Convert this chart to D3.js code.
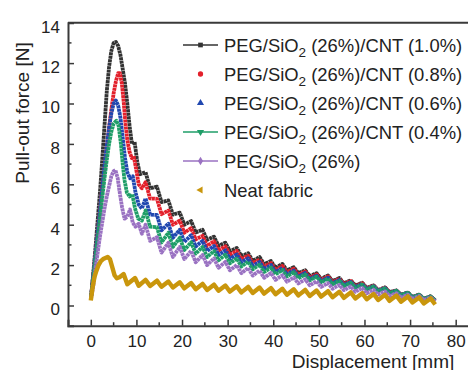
<!DOCTYPE html>
<html>
<head>
<meta charset="utf-8">
<script src="https://cdn.jsdelivr.net/npm/d3@7"></script>
<style>
  body { margin: 0; background: #fff; }
  svg { display: block; font-family: "Liberation Sans", Arial, sans-serif; }
</style>
</head>
<body>
<div class="graphics"></div>
<script>
// legend text, colours and symbols
var labels = ["PEG/SiO₂ (26%)/CNT (1.0%)", "PEG/SiO₂ (26%)/CNT (0.8%)", "PEG/SiO₂ (26%)/CNT (0.6%)",
              "PEG/SiO₂ (26%)/CNT (0.4%)", "PEG/SiO₂ (26%)", "Neat fabric"]
var colors = ["#333333", "#e3202b", "#2148b0", "#1f9e68", "#9a72c2", "#c9960c"]
var symbols = [d3.symbolSquare, d3.symbolCircle, d3.symbolTriangle, "down", d3.symbolDiamond, "left"]
var legendLine = [true, false, false, true, true, false]

var xTicks = [0, 10, 20, 30, 40, 50, 60, 70, 80]
var yTicks = [0, 2, 4, 6, 8, 10, 12, 14]

// first part of each curve (rise + peak), [displacement, force]
var headBlack = [[0,0.3],[0.5,1.5],[1,2.8],[1.5,4.2],[2,5.6],[2.5,7.2],[3,8.9],[3.5,10.6],[4,11.8],[4.5,12.6],[5,13.0],[5.5,13.05],[6,12.85],[6.5,12.4],[7,11.7],[7.5,11.0],[8,10.0],[8.5,8.9],[9,8.0],[9.6,8.1],[10.2,7.1],[10.8,6.5]]
var headRed = [[0,0.3],[0.5,1.4],[1,2.5],[1.5,3.6],[2,4.7],[2.5,5.8],[3,6.7],[3.5,7.8],[4,8.8],[4.5,9.7],[5,10.5],[5.5,11.1],[6,11.5],[6.4,11.5],[6.8,11.0],[7.2,10.1],[7.6,9.0],[8,8.2],[8.5,7.6],[9,7.3],[9.4,7.4],[9.9,6.8],[10.5,6.0],[11.2,5.8]]
var headBlue = [[0,0.3],[0.5,1.4],[1,2.5],[1.5,3.6],[2,4.7],[2.5,5.8],[3,6.9],[3.5,7.9],[4,8.8],[4.5,9.5],[5,10.0],[5.5,10.15],[6,9.9],[6.5,9.3],[7,8.3],[7.5,7.3],[8,6.6],[8.6,6.3],[9.2,6.4],[9.8,5.6],[10.5,5.0],[11.2,4.8]]
var headGreen = [[0,0.3],[0.5,1.3],[1,2.3],[1.5,3.3],[2,4.3],[2.5,5.3],[3,6.3],[3.5,7.2],[4,8.0],[4.5,8.6],[5,9.0],[5.6,9.15],[6.1,8.9],[6.6,8.0],[7,7.0],[7.4,6.2],[7.9,5.6],[8.5,5.4],[9.1,5.5],[9.7,4.8],[10.4,4.3],[11.2,4.2]]
var headPurple = [[0,0.3],[0.5,0.9],[1,1.8],[1.5,2.6],[2,3.4],[2.5,4.1],[3,4.8],[3.5,5.4],[4,5.9],[4.5,6.4],[5,6.65],[5.4,6.7],[5.9,6.3],[6.4,5.5],[6.9,4.8],[7.4,4.3],[8,4.4],[8.6,4.75],[9.2,4.1],[9.8,3.9],[10.5,4.05],[11.2,3.55]]
var headGold = [[0,0.25],[0.4,0.9],[0.8,1.4],[1.2,1.7],[1.7,2.0],[2.2,2.2],[2.7,2.3],[3.2,2.35],[3.7,2.4],[4.2,2.3],[4.7,1.9],[5.2,1.5],[5.7,1.35],[6.3,1.4],[7.2,1.56],[8,1.05],[9.7,1.36],[10.5,0.98]]

// saw-tooth tail: displacement of each peak / trough
var tailX = [12,13,14.5,15.5,17,18,19.5,20.5,22,23,24.5,25.5,27,28,29.5,30.5,32,33,34.5,35.5,37,38,39.5,40.5,42,43,
             44.5,45.5,47,48,49.5,50.5,52,53,54.5,55.5,57,58,59.5,60.5,62,63,64.5,65.5,67,68,69.5,70.5,72,73,74.5,75.5]
var tailBlack = [6.6,5.8,5.88,5.12,5.2,4.5,4.6,4.0,4.18,3.62,3.75,3.25,3.41,2.95,3.11,2.69,2.85,2.45,2.59,2.21,2.4,2.04,2.2,1.86,2.06,1.74,
                 1.9,1.6,1.75,1.45,1.6,1.32,1.49,1.21,1.36,1.1,1.25,0.99,1.13,0.87,1.0,0.76,0.9,0.66,0.75,0.53,0.64,0.42,0.54,0.34,0.45,0.25]
var tailRed = [6.1,5.3,5.28,4.52,4.7,4.0,4.2,3.6,3.83,3.27,3.45,2.95,3.18,2.72,2.93,2.51,2.7,2.3,2.47,2.09,2.28,1.92,2.1,1.76,1.96,1.64,
               1.82,1.52,1.68,1.38,1.54,1.26,1.44,1.16,1.32,1.06,1.21,0.95,1.1,0.84,0.98,0.74,0.88,0.64,0.74,0.52,0.63,0.41,0.53,0.33,0.45,0.25]
var tailBlue = [5.3,4.5,4.48,3.72,4.05,3.35,3.75,3.15,3.48,2.92,3.2,2.7,2.95,2.49,2.73,2.31,2.53,2.13,2.34,1.96,2.16,1.8,2.0,1.66,1.86,1.54,
                1.73,1.43,1.61,1.31,1.48,1.2,1.38,1.1,1.27,1.01,1.17,0.91,1.07,0.81,0.96,0.72,0.86,0.62,0.73,0.51,0.63,0.41,0.52,0.32,0.44,0.24]
var tailGreen = [4.7,3.9,3.88,3.12,3.6,2.9,3.35,2.75,3.13,2.57,2.9,2.4,2.7,2.24,2.51,2.09,2.33,1.93,2.17,1.79,2.02,1.66,1.88,1.54,1.76,1.44,
                 1.65,1.35,1.54,1.24,1.43,1.15,1.33,1.05,1.22,0.96,1.13,0.87,1.04,0.78,0.94,0.7,0.85,0.61,0.73,0.51,0.63,0.41,0.53,0.33,0.45,0.25]
var tailPurple = [4.0,3.2,3.38,2.62,3.1,2.4,2.9,2.3,2.7,2.14,2.5,2.0,2.33,1.87,2.16,1.74,2.0,1.6,1.86,1.48,1.73,1.37,1.61,1.27,1.5,1.18,
                  1.39,1.09,1.3,1.0,1.2,0.92,1.11,0.83,1.02,0.76,0.94,0.68,0.87,0.61,0.78,0.54,0.7,0.46,0.61,0.39,0.54,0.32,0.47,0.27,0.4,0.2]
var tailGold = [1.27,0.97,1.23,0.93,1.19,0.89,1.15,0.85,1.11,0.81,1.07,0.77,1.03,0.73,0.99,0.69,0.95,0.65,0.92,0.62,0.89,0.59,0.86,0.56,0.83,0.53,
                0.8,0.5,0.77,0.47,0.74,0.44,0.71,0.41,0.68,0.38,0.65,0.35,0.61,0.31,0.57,0.27,0.53,0.23,0.49,0.19,0.45,0.15,0.4,0.1,0.35,0.05]

function build(head, tail){
    return head.concat(tail.map(function(y,i){ return [tailX[i], y]; }));
}

var series = [build(headBlack, tailBlack), build(headRed, tailRed), build(headBlue, tailBlue),
              build(headGreen, tailGreen), build(headPurple, tailPurple), build(headGold, tailGold)]

var W = 468, H = 370
var svg = d3.select('.graphics').append('svg')
    .attr('width', W).attr('height', H)

var x = d3.scaleLinear().domain([-5, 85]).range([68, 478.5])
var y = d3.scaleLinear().domain([-1, 14]).range([325.7, 22.7])

var axisColor = "#3a3a3a"

// curves
var line = d3.line().x(function(d){ return x(d[0]); }).y(function(d){ return y(d[1]); })
series.forEach(function(s, i){
    svg.append('path')
        .datum(s)
        .attr('d', line)
        .attr('fill', 'none')
        .attr('stroke', colors[i])
        .attr('stroke-width', i == 5 ? 4.4 : 3.8)
        .attr('stroke-linejoin', 'round')
        .attr('stroke-dasharray', i == 5 ? null : '3,0.5')
})

// axes (ticks inward)
var xAxis = d3.axisBottom(x).tickValues(xTicks).tickSize(-6).tickPadding(9)
var gx = svg.append('g').attr('transform', 'translate(0,' + y(-1) + ')').call(xAxis)
var yAxis = d3.axisLeft(y).tickValues(yTicks).tickSize(-6).tickPadding(8)
var gy = svg.append('g').attr('transform', 'translate(' + x(-5) + ',0)').call(yAxis)

;[gx, gy].forEach(function(g){
    g.select('.domain').attr('stroke', axisColor).attr('stroke-width', 2)
    g.selectAll('.tick line').attr('stroke', axisColor).attr('stroke-width', 1.5)
    g.selectAll('.tick text').attr('fill', '#222').attr('font-size', 17)
})
gy.selectAll('.tick text').attr('dy', '0.55em')

// minor ticks
var xMinor = [5, 15, 25, 35, 45, 55, 65, 75]
var yMinor = [1, 3, 5, 7, 9, 11, 13]
svg.selectAll('.xminor').data(xMinor).enter().append('line')
    .attr('x1', function(d){ return x(d); }).attr('x2', function(d){ return x(d); })
    .attr('y1', y(-1)).attr('y2', y(-1) - 3.5)
    .attr('stroke', axisColor).attr('stroke-width', 1.5)
svg.selectAll('.yminor').data(yMinor).enter().append('line')
    .attr('x1', x(-5)).attr('x2', x(-5) + 3.5)
    .attr('y1', function(d){ return y(d); }).attr('y2', function(d){ return y(d); })
    .attr('stroke', axisColor).attr('stroke-width', 1.5)

// top frame
svg.append('line')
    .attr('x1', x(-5)).attr('x2', W).attr('y1', y(14)).attr('y2', y(14))
    .attr('stroke', axisColor).attr('stroke-width', 2)

// axis titles
svg.append('text')
    .attr('x', 373).attr('y', 367.5)
    .attr('text-anchor', 'middle').attr('font-size', 19).attr('fill', '#222')
    .text('Displacement [mm]')
svg.append('text')
    .attr('transform', 'translate(29,113) rotate(-90)')
    .attr('text-anchor', 'middle').attr('font-size', 19).attr('fill', '#222')
    .text('Pull-out force [N]')

// legend
var legend = svg.append('g')
labels.forEach(function(lab, i){
    var ly = 45 + i * 29
    var g = legend.append('g').attr('transform', 'translate(0,' + ly + ')')
    if (legendLine[i]) {
        g.append('line').attr('x1', 183).attr('x2', 218).attr('y1', 0).attr('y2', 0)
            .attr('stroke', colors[i]).attr('stroke-width', 1.5)
    }
    var sym = symbols[i], rot = 0
    if (sym == "down") { sym = d3.symbolTriangle; rot = 180 }
    if (sym == "left") { sym = d3.symbolTriangle; rot = -90 }
    g.append('path')
        .attr('d', d3.symbol().type(sym).size(22))
        .attr('transform', 'translate(200.5,0) rotate(' + rot + ')')
        .attr('fill', colors[i])

    var t = g.append('text').attr('x', 224).attr('y', 6.5)
        .attr('font-size', 18.4).attr('fill', '#222')
    var parts = lab.split('₂')
    t.append('tspan').text(parts[0])
    if (parts.length > 1) {
        t.append('tspan').attr('font-size', 13.5).attr('dy', 5).text('2')
        t.append('tspan').attr('dy', -5).text(parts[1])
    }
})
</script>
</body>
</html>
